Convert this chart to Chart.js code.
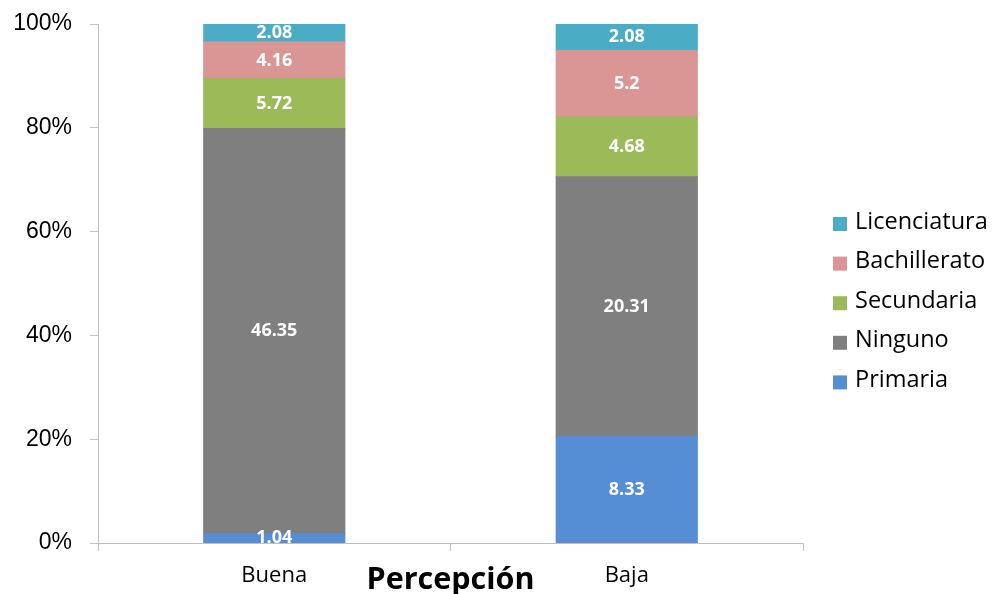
<!DOCTYPE html>
<html>
<head>
<meta charset="utf-8">
<script src="https://cdn.jsdelivr.net/npm/chart.js@4"></script>
<style>
  html, body { margin: 0; padding: 0; background: #fff; }
  #c { display: block; }
</style>
</head>
<body>
<canvas id="c" width="993" height="594"></canvas>
<script>
// Categories and series (percent of respondents by education level)
const categories = ['Buena', 'Baja'];
const seriesNames = ['Primaria', 'Ninguno', 'Secundaria', 'Bachillerato', 'Licenciatura'];
const primaria = [1.04, 8.33];
const ninguno = [46.35, 20.31];
const secundaria = [5.72, 4.68];
const bachillerato = [4.16, 5.2];
const licenciatura = [2.08, 2.08];
const yTickValues = [0, 20, 40, 60, 80, 100];
const xAxisTitle = 'Percepción';

const seriesValues = [primaria, ninguno, secundaria, bachillerato, licenciatura];
const seriesColors = ['#558ED5', '#7F7F7F', '#9BBB59', '#D99694', '#4BACC6'];

// Column totals, used to stack each bar to 100%
const totals = categories.map((_, j) => seriesValues.reduce((s, arr) => s + arr[j], 0));

const datasets = seriesNames.map((name, i) => ({
  label: name,
  values: seriesValues[i],
  data: seriesValues[i].map((v, j) => v / totals[j] * 100),
  backgroundColor: seriesColors[i],
  borderWidth: 0,
  inflateAmount: 0.6,
  barPercentage: 0.4,
  categoryPercentage: 1.0
}));

const SANS = '"Open Sans", "Noto Sans", sans-serif';

// White value labels centred in each segment
const segmentLabels = {
  id: 'segmentLabels',
  afterDatasetsDraw(chart) {
    const ctx = chart.ctx;
    ctx.save();
    ctx.font = 'bold 18px ' + SANS;
    ctx.fillStyle = '#ffffff';
    ctx.textAlign = 'center';
    ctx.textBaseline = 'middle';
    chart.data.datasets.forEach((ds, i) => {
      const meta = chart.getDatasetMeta(i);
      meta.data.forEach((bar, j) => {
        const p = bar.getProps(['x', 'y', 'base'], true);
        ctx.fillText(String(ds.values[j]), p.x, (p.y + p.base) / 2);
      });
    });
    ctx.restore();
  }
};

// Legend on the right, top item = top of the stack
const sideLegend = {
  id: 'sideLegend',
  afterDraw(chart) {
    const ctx = chart.ctx;
    const items = chart.data.datasets.slice().reverse();
    const x0 = 833, textX = 855, y0 = 222, step = 39.6, box = 14;
    ctx.save();
    ctx.font = '23.5px ' + SANS;
    ctx.textAlign = 'left';
    ctx.textBaseline = 'middle';
    items.forEach((ds, k) => {
      const cy = y0 + k * step;
      ctx.fillStyle = ds.backgroundColor;
      ctx.fillRect(x0, cy - box / 2 + 2, box, box);
      ctx.fillStyle = '#000000';
      ctx.fillText(ds.label, textX, cy);
    });
    ctx.restore();
  }
};

new Chart(document.getElementById('c'), {
  type: 'bar',
  data: { labels: categories, datasets },
  plugins: [segmentLabels, sideLegend],
  options: {
    responsive: false,
    animation: false,
    layout: { padding: { top: 24, right: 190, left: 0, bottom: 0 } },
    plugins: {
      legend: { display: false },
      tooltip: { enabled: false }
    },
    scales: {
      x: {
        stacked: true,
        grid: { drawOnChartArea: false, tickLength: 8, color: '#BFBFBF', offset: true },
        border: { color: '#BFBFBF' },
        ticks: { font: { family: SANS, size: 22 }, color: '#000', padding: 12 },
        title: {
          display: true,
          text: xAxisTitle,
          font: { family: SANS, size: 30.5, weight: 'bold' },
          color: '#000',
          padding: { top: 0, bottom: -5 }
        },
        afterFit(scale) { scale.height = 51; }
      },
      y: {
        stacked: true,
        min: 0,
        max: 100,
        afterBuildTicks(scale) { scale.ticks = yTickValues.map(v => ({ value: v })); },
        grid: { drawOnChartArea: false, tickLength: 8, color: '#BFBFBF' },
        border: { color: '#BFBFBF' },
        ticks: {
          font: { family: '"Liberation Sans", Arial, sans-serif', size: 23 },
          color: '#000',
          padding: 18,
          callback: v => v + '%'
        },
        afterFit(scale) {
          scale.width = 98;
          scale.paddingTop = 0;
          scale.paddingBottom = 0;
        }
      }
    }
  }
});
</script>
</body>
</html>
